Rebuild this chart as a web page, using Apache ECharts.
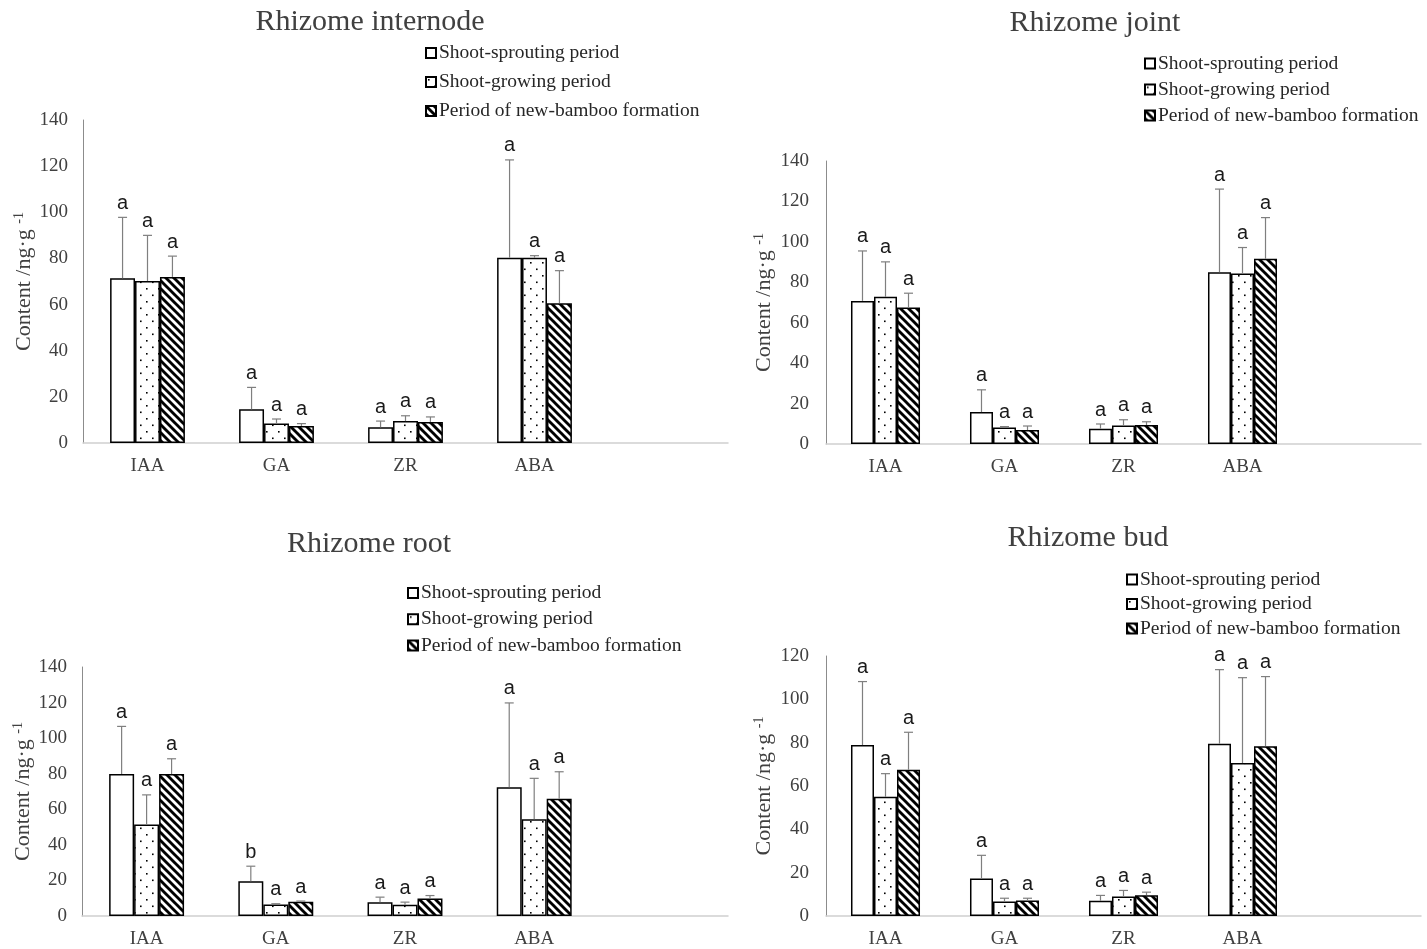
<!DOCTYPE html>
<html>
<head>
<meta charset="utf-8">
<title>Rhizome hormone content</title>
<script src="https://cdn.jsdelivr.net/npm/echarts@6/dist/echarts.min.js"></script>
<style>
  html, body { margin: 0; padding: 0; background: #fff; }
  #chart { width: 1427px; height: 949px; }
</style>
</head>
<body>
<div id="chart"></div>
<script>
'use strict';

// ---- data ----
const categories = ['IAA', 'GA', 'ZR', 'ABA', ''];
const periods = ['Shoot-sprouting period', 'Shoot-growing period', 'Period of new-bamboo formation'];

// one row per period, columns follow categories (IAA, GA, ZR, ABA)
const internodeMean = [[71.4, 14.6, 6.8, 80.3], [70.2, 8.4, 9.5, 80.3], [72.0, 7.4, 9.1, 60.6]];
const internodeErr = [[26.4, 9.5, 2.7, 42.4], [19.8, 2.0, 2.3, 0.9], [9.0, 1.0, 2.2, 14.1]];
const internodeLetters = [['a', 'a', 'a', 'a'], ['a', 'a', 'a', 'a'], ['a', 'a', 'a', 'a']];

const jointMean = [[70.8, 15.8, 7.6, 85.0], [72.8, 8.2, 9.1, 84.3], [67.5, 6.9, 9.4, 91.6]];
const jointErr = [[24.7, 11.0, 2.3, 41.1], [17.3, 0.4, 2.9, 12.9], [7.1, 2.0, 1.6, 20.4]];
const jointLetters = [['a', 'a', 'a', 'a'], ['a', 'a', 'a', 'a'], ['a', 'a', 'a', 'a']];

const rootMean = [[79.8, 19.5, 7.8, 72.4], [51.4, 6.5, 6.3, 54.4], [79.8, 8.0, 9.8, 65.9]];
const rootErr = [[26.8, 8.5, 2.8, 47.4], [16.7, 0.4, 1.5, 23.0], [8.6, 0.4, 1.7, 15.2]];
const rootLetters = [['a', 'b', 'a', 'a'], ['a', 'a', 'a', 'a'], ['a', 'a', 'a', 'a']];

const budMean = [[78.9, 17.3, 7.0, 79.5], [55.0, 6.7, 9.0, 70.6], [67.5, 7.2, 9.6, 78.4]];
const budErr = [[29.3, 10.7, 2.5, 34.2], [10.7, 1.5, 2.8, 39.4], [17.3, 1.0, 1.4, 32.1]];
const budLetters = [['a', 'a', 'a', 'a'], ['a', 'a', 'a', 'a'], ['a', 'a', 'a', 'a']];

const serif = 'Liberation Serif';
const catGap = 0.42;

/**
 * Fill patterns for the three periods
 */
const makeDots = () => {
    const c = document.createElement('canvas');
    c.width = 12; c.height = 13;
    const ctx = c.getContext('2d');
    ctx.fillStyle = '#fff';
    ctx.fillRect(0, 0, 12, 13);
    ctx.fillStyle = '#000';
    ctx.fillRect(2, 2, 1.6, 1.6);
    ctx.fillRect(8, 8.5, 1.6, 1.6);
    return c;
};

const makeStripes = () => {
    const c = document.createElement('canvas');
    c.width = 8; c.height = 8;
    const ctx = c.getContext('2d');
    ctx.fillStyle = '#fff';
    ctx.fillRect(0, 0, 8, 8);
    ctx.strokeStyle = '#000';
    ctx.lineWidth = 2.9;
    for (let o = -8; o <= 8; o += 8) {
        ctx.beginPath();
        ctx.moveTo(o - 1, -1);
        ctx.lineTo(o + 9, 9);
        ctx.stroke();
    }
    return c;
};

const fills = ['#ffffff', { image: makeDots(), repeat: 'repeat' }, { image: makeStripes(), repeat: 'repeat' }];

const panels = [
    { title: 'Rhizome internode', titleX: 370, titleTop: 7,
      grid: { left: 83, top: 120, width: 645, height: 323 }, yMax: 140,
      legend: { left: 425, top: 43, gap: 9 }, nameGap: 46, labelMargin: 15,
      mean: internodeMean, err: internodeErr, letters: internodeLetters },
    { title: 'Rhizome joint', titleX: 1095, titleTop: 8,
      grid: { left: 826, top: 161, width: 595, height: 283 }, yMax: 140,
      legend: { left: 1144, top: 53.5, gap: 6 }, nameGap: 49, labelMargin: 17,
      mean: jointMean, err: jointErr, letters: jointLetters },
    { title: 'Rhizome root', titleX: 369, titleTop: 529,
      grid: { left: 82, top: 667, width: 646, height: 251 }, yMax: 140,
      legend: { left: 407, top: 583, gap: 6.2 }, nameGap: 46, labelMargin: 15,
      mean: rootMean, err: rootErr, letters: rootLetters },
    { title: 'Rhizome bud', titleX: 1088, titleTop: 523,
      grid: { left: 826, top: 656, width: 595, height: 261 }, yMax: 120,
      legend: { left: 1126, top: 569.5, gap: 4.5 }, nameGap: 49, labelMargin: 17,
      mean: budMean, err: budErr, letters: budLetters }
];

const option = {
    backgroundColor: '#fff',
    animation: false,
    title: [], grid: [], xAxis: [], yAxis: [], legend: [], series: []
};

panels.forEach((p, i) => {
    option.title.push({
        text: p.title, left: p.titleX, top: p.titleTop, textAlign: 'center', padding: 0,
        textStyle: { fontFamily: serif, fontSize: 30, fontWeight: 'normal', color: '#404040' }
    });
    option.grid.push(Object.assign({ containLabel: false }, p.grid));
    option.legend.push({
        orient: 'vertical', left: p.legend.left, top: p.legend.top, padding: 0,
        itemGap: p.legend.gap, itemWidth: 10, itemHeight: 10, selectedMode: false,
        data: periods, icon: 'rect',
        textStyle: { fontFamily: serif, fontSize: 19.5, color: '#262626', padding: [0, 0, 0, -2] }
    });
    option.xAxis.push({
        type: 'category', gridIndex: i, data: categories,
        axisLine: { lineStyle: { color: '#d0d0d0', width: 1.5 } },
        axisTick: { show: false },
        axisLabel: { fontFamily: serif, fontSize: 19, color: '#404040', margin: 14 }
    });
    option.yAxis.push({
        type: 'value', gridIndex: i, min: 0, max: p.yMax, interval: 20,
        name: 'Content /ng·g {sup|-1}', nameLocation: 'middle', nameGap: p.nameGap,
        nameTextStyle: {
            fontFamily: serif, fontSize: 22, color: '#404040',
            rich: { sup: { fontFamily: serif, fontSize: 14, color: '#404040', verticalAlign: 'top', padding: [0, 0, 11, 0] } }
        },
        splitLine: { show: false },
        axisLine: { show: true, lineStyle: { color: '#8c8c8c', width: 1 } },
        axisTick: { show: false },
        axisLabel: { fontFamily: serif, fontSize: 19, color: '#404040', margin: p.labelMargin }
    });

    const errData = [];
    const letterList = [];
    periods.forEach((name, k) => {
        option.series.push({
            name, type: 'bar', xAxisIndex: i, yAxisIndex: i,
            barGap: '0%', barCategoryGap: (catGap * 100) + '%',
            itemStyle: { color: fills[k], borderColor: '#000', borderWidth: 1.5 },
            data: p.mean[k]
        });
        p.mean[k].forEach((v, c) => {
            errData.push([c, k, v, v + p.err[k][c]]);
            letterList.push(p.letters[k][c]);
        });
    });

    option.series.push({
        type: 'custom', xAxisIndex: i, yAxisIndex: i, z: 5,
        encode: { x: 0, y: 3 },
        data: errData,
        renderItem: (params, api) => {
            const cat = api.value(0);
            const k = api.value(1);
            const base = api.coord([cat, api.value(2)]);
            const top = api.coord([cat, api.value(3)]);
            const band = api.size([1, 0])[0];
            const bw = band * (1 - catGap) / 3;
            const cx = base[0] + (k - 1) * bw;
            const stroke = { stroke: '#7f7f7f', lineWidth: 1.2 };
            return {
                type: 'group',
                children: [
                    { type: 'line', shape: { x1: cx, y1: base[1], x2: cx, y2: top[1] }, style: stroke },
                    { type: 'line', shape: { x1: cx - 4.5, y1: top[1], x2: cx + 4.5, y2: top[1] }, style: stroke },
                    { type: 'text', style: {
                        text: letterList[params.dataIndex], x: cx, y: top[1] - 4,
                        align: 'center', verticalAlign: 'bottom',
                        font: '20px "Liberation Sans"', fill: '#1a1a1a'
                    } }
                ]
            };
        }
    });
});

const chart = echarts.init(document.getElementById('chart'), null, { renderer: 'canvas' });
chart.setOption(option);
</script>
</body>
</html>
